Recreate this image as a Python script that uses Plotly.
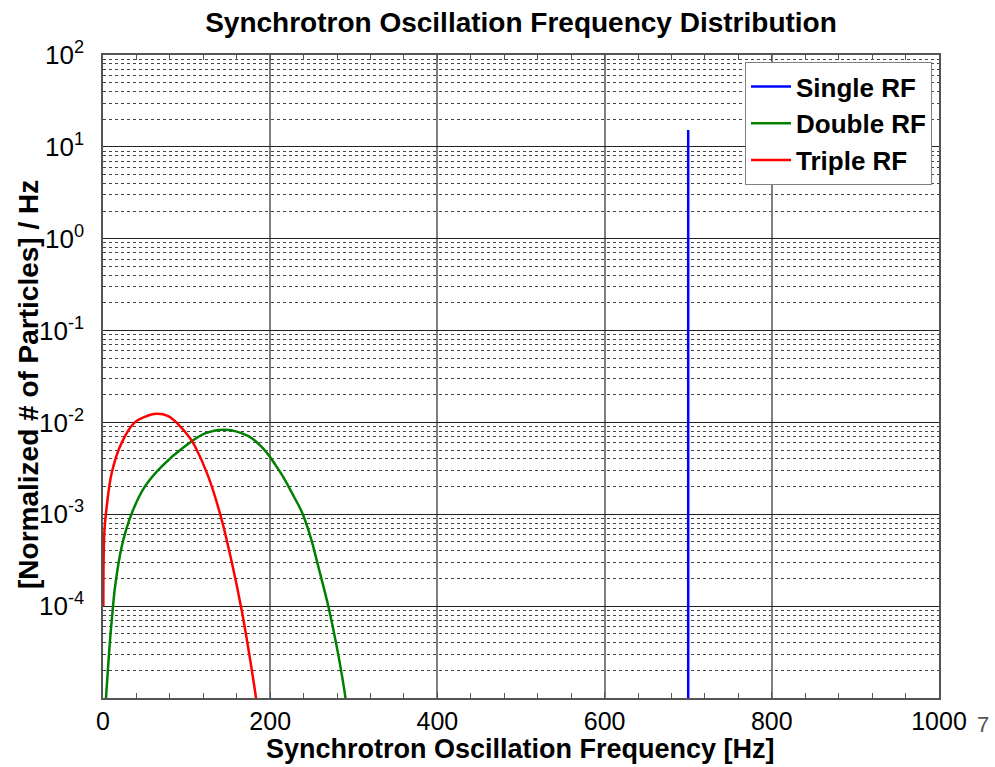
import plotly.graph_objects as go

# ---- data ----
single_freq = [700.0, 700.0]
single_density = [1e-9, 15.3]

double_freq = [3.6, 8.4, 11, 14.4, 22.4, 34.3, 50, 70, 98, 122, 146, 174, 190, 200, 206, 216, 228, 238,
               248, 259, 270, 280, 290, 293]
double_density = [1.0e-5, 4.27e-5, 7.94e-5, 1.62e-4, 4.47e-4, 1.02e-3, 2.0e-3, 3.31e-3, 5.5e-3, 7.59e-3,
                  8.32e-3, 7.08e-3, 5.37e-3, 4.17e-3, 3.47e-3, 2.51e-3, 1.58e-3, 1.05e-3, 5.75e-4, 2.40e-4,
                  9.55e-5, 3.47e-5, 1.0e-5, 5e-6]

triple_freq = [0.4, 1.6, 4.4, 10.4, 22.4, 38, 50, 64, 78, 90, 104, 110, 126, 142, 154, 166, 174, 183, 187]
triple_density = [1.0e-4, 6.31e-4, 1.2e-3, 2.82e-3, 6.03e-3, 1.0e-2, 1.15e-2, 1.24e-2, 1.17e-2, 9.55e-3,
                  6.76e-3, 5.5e-3, 2.57e-3, 8.71e-4, 3.02e-4, 8.91e-5, 3.39e-5, 1.0e-5, 5e-6]

y_tick_vals = [1e-4, 1e-3, 1e-2, 1e-1, 1e0, 1e1, 1e2]
y_tick_text = ["10<sup>-4</sup>", "10<sup>-3</sup>", "10<sup>-2</sup>", "10<sup>-1</sup>",
               "10<sup>0</sup>", "10<sup>1</sup>", "10<sup>2</sup>"]
x_tick_vals = [0, 200, 400, 600, 800, 1000]
x_minor_vals = [v for v in range(40, 1000, 40) if v % 200 != 0]
y_minor_vals = [m * 10.0 ** e for e in range(-5, 2) for m in range(2, 10)]

FONT = "Liberation Sans, Arial, sans-serif"
L, R, T, B = 103, 939, 55, 698
PW, PH = R - L, B - T

fig = go.Figure()
fig.add_trace(go.Scatter(x=single_freq, y=single_density, mode="lines", name="<b>Single RF</b>",
                         line=dict(color="#0000ff", width=2.5)))
fig.add_trace(go.Scatter(x=double_freq, y=double_density, mode="lines", name="<b>Double RF</b>",
                         line=dict(color="#008000", width=2.5, shape="spline", smoothing=1.0)))
fig.add_trace(go.Scatter(x=triple_freq, y=triple_density, mode="lines", name="<b>Triple RF</b>",
                         line=dict(color="#ff0000", width=2.5, shape="spline", smoothing=1.0)))

fig.update_layout(
    width=995, height=767,
    margin=dict(l=L, r=995 - R, t=T, b=767 - B),
    paper_bgcolor="white", plot_bgcolor="white",
    font=dict(family=FONT, color="black", size=26),
    title=dict(text="<b>Synchrotron Oscillation Frequency Distribution</b>",
               x=521 / 995, xanchor="center", y=1 - 22 / 767, yanchor="middle",
               font=dict(size=28, family=FONT, color="black")),
    showlegend=True,
    legend=dict(x=(932 - L) / PW, xanchor="right", y=1 - (62 - T) / PH, yanchor="top",
                bgcolor="white", bordercolor="#808080", borderwidth=1,
                font=dict(size=26, family=FONT, color="black"),
                itemwidth=40, tracegroupgap=0),
)

fig.update_xaxes(
    range=[0, 1000], tickvals=x_tick_vals, ticktext=[str(v) for v in x_tick_vals],
    showgrid=True, gridcolor="#808080", gridwidth=1.5,
    showline=True, linecolor="#555555", linewidth=1.5, mirror="ticks",
    ticks="inside", ticklen=6, tickcolor="#555555",
    tickfont=dict(size=25, family=FONT, color="black"),
    minor=dict(tickvals=x_minor_vals, ticks="inside", ticklen=5, tickcolor="#555555", showgrid=False),
    zeroline=False,
)
fig.update_yaxes(
    type="log", range=[-5, 2], tickvals=y_tick_vals, ticktext=y_tick_text,
    showgrid=True, gridcolor="#222222", gridwidth=1,
    showline=True, linecolor="#555555", linewidth=1.5, mirror="ticks",
    ticks="", ticklabelstandoff=12,
    tickfont=dict(size=26, family=FONT, color="black"),
    minor=dict(tickvals=y_minor_vals, showgrid=True, gridcolor="#444444", griddash="dot", gridwidth=1, ticks=""),
    zeroline=False,
)

# axis titles
fig.add_annotation(text="<b>Synchrotron Oscillation Frequency [Hz]</b>", xref="paper", yref="paper",
                   x=(520 - L) / PW, y=(B - 749) / PH, xanchor="center", yanchor="middle",
                   showarrow=False, font=dict(size=27, family=FONT, color="black"))
fig.add_annotation(text="<b>[Normalized # of Particles] / Hz</b>", xref="paper", yref="paper",
                   x=(28 - L) / PW, y=(B - 385) / PH, xanchor="center", yanchor="middle", textangle=-90,
                   showarrow=False, font=dict(size=28, family=FONT, color="black"))

# slide page number
fig.add_annotation(text="7", xref="paper", yref="paper", x=1, y=0, xanchor="center", yanchor="middle",
                   xshift=983 - R, yshift=-(724 - B),
                   showarrow=False, font=dict(size=22, family=FONT, color="#555555"))

fig.write_html("out.html")
